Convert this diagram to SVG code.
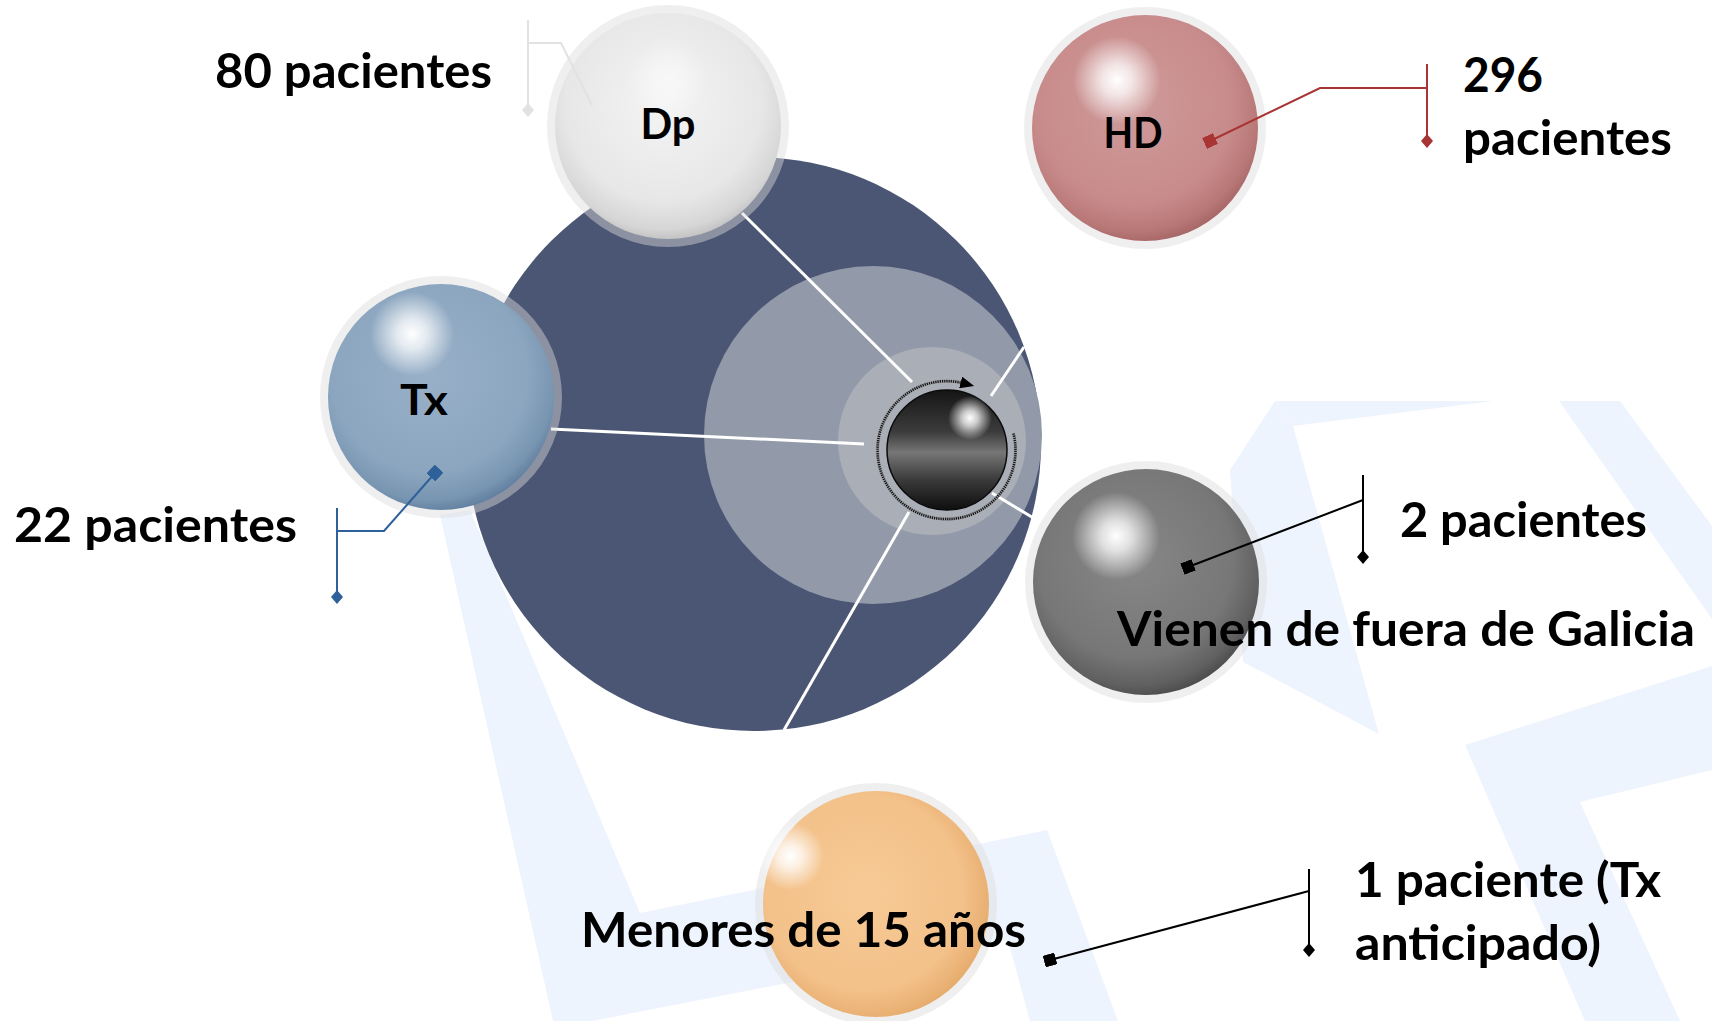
<svg xmlns="http://www.w3.org/2000/svg" width="1712" height="1021" viewBox="0 0 1712 1021">
<defs>
<style>
.lbl{font-family:Lato,"Open Sans","Liberation Sans",sans-serif;font-weight:700;font-size:48px;fill:#000}
.in{font-size:42px;text-anchor:middle}
.wm{fill:#eef4fd}
.ray{stroke:#fff;stroke-width:3;fill:none}
.halo{fill:#dcdcdc;fill-opacity:0.45}
.ld{fill:none;stroke-width:2}
</style>
<radialGradient id="gDp" cx="0.48" cy="0.4" r="0.62"><stop offset="0" stop-color="#f4f4f4"/><stop offset="0.7" stop-color="#e7e7e7"/><stop offset="0.9" stop-color="#d5d5d5"/><stop offset="1" stop-color="#bcbcbc"/></radialGradient>
<radialGradient id="gHD" cx="0.45" cy="0.4" r="0.62"><stop offset="0" stop-color="#cf9a9a"/><stop offset="0.7" stop-color="#c88b8b"/><stop offset="0.9" stop-color="#b87777"/><stop offset="1" stop-color="#a56464"/></radialGradient>
<radialGradient id="gTx" cx="0.45" cy="0.4" r="0.62"><stop offset="0" stop-color="#98b0c8"/><stop offset="0.7" stop-color="#8ca6bf"/><stop offset="0.9" stop-color="#7794b1"/><stop offset="1" stop-color="#5e7d9d"/></radialGradient>
<radialGradient id="gGr" cx="0.45" cy="0.4" r="0.62"><stop offset="0" stop-color="#878787"/><stop offset="0.7" stop-color="#777777"/><stop offset="0.9" stop-color="#606060"/><stop offset="1" stop-color="#4a4a4a"/></radialGradient>
<radialGradient id="gOr" cx="0.45" cy="0.45" r="0.62"><stop offset="0" stop-color="#f7ca95"/><stop offset="0.7" stop-color="#f3c18a"/><stop offset="0.9" stop-color="#e8ae70"/><stop offset="1" stop-color="#d8995a"/></radialGradient>
<linearGradient id="gDk" x1="0" y1="0" x2="0" y2="1"><stop offset="0" stop-color="#151515"/><stop offset="0.35" stop-color="#3c3c3c"/><stop offset="0.52" stop-color="#767676"/><stop offset="0.75" stop-color="#3a3a3a"/><stop offset="1" stop-color="#0e0e0e"/></linearGradient>
<radialGradient id="hl"><stop offset="0" stop-color="#fff" stop-opacity="1"/><stop offset="0.35" stop-color="#fff" stop-opacity="0.75"/><stop offset="1" stop-color="#fff" stop-opacity="0"/></radialGradient>
<marker id="diaBlue" viewBox="-7 -7 14 14" markerWidth="14" markerHeight="14" markerUnits="userSpaceOnUse" refX="0" refY="0" orient="0"><path d="M0,-7L6,0L0,7L-6,0Z" fill="#2e6099"/></marker>
<marker id="diaRed" viewBox="-7 -7 14 14" markerWidth="14" markerHeight="14" markerUnits="userSpaceOnUse" refX="0" refY="0" orient="0"><path d="M0,-7L6,0L0,7L-6,0Z" fill="#a83434"/></marker>
<marker id="diaBlack" viewBox="-7 -7 14 14" markerWidth="14" markerHeight="14" markerUnits="userSpaceOnUse" refX="0" refY="0" orient="0"><path d="M0,-7L6,0L0,7L-6,0Z" fill="#000"/></marker>
<marker id="diaGray" viewBox="-7 -7 14 14" markerWidth="14" markerHeight="14" markerUnits="userSpaceOnUse" refX="0" refY="0" orient="0"><path d="M0,-7L6,0L0,7L-6,0Z" fill="#e2e2e2"/></marker>
<marker id="sqBlue" viewBox="-6 -6 12 12" markerWidth="12" markerHeight="12" markerUnits="userSpaceOnUse" refX="0" refY="0" orient="auto"><path d="M-6,-6H6V6H-6Z" fill="#2e6099"/></marker>
<marker id="sqRed" viewBox="-6 -6 12 12" markerWidth="12" markerHeight="12" markerUnits="userSpaceOnUse" refX="0" refY="0" orient="auto"><path d="M-6,-6H6V6H-6Z" fill="#a83434"/></marker>
<marker id="sqBlack" viewBox="-6 -6 12 12" markerWidth="12" markerHeight="12" markerUnits="userSpaceOnUse" refX="0" refY="0" orient="auto"><path d="M-6,-6H6V6H-6Z" fill="#000"/></marker>
<marker id="arr" viewBox="0 -6 14 12" markerWidth="14" markerHeight="12" markerUnits="userSpaceOnUse" refX="4" refY="0" orient="auto"><path d="M0,-6L14,0L0,6Z" fill="#000"/></marker>
</defs>
<rect width="1712" height="1021" fill="#fff"/>
<g id="watermark">
<polygon class="wm" points="440,515 470,510 640,913 1047,830 1118,1021 1030,1021 1008,940 592,1021 553,1021"/>
<polygon class="wm" points="1275,401 1494,401 1293,426"/>
<polygon class="wm" points="1559,401 1620,401 1712,526 1712,619"/>
<polygon class="wm" points="1275,401 1293,426 1379,734 1243,662 1230,470"/>
<polygon class="wm" points="1465,745 1712,666 1712,770 1580,802 1680,1021 1585,1021"/>
</g>
<g id="node-center">
<circle cx="754" cy="444" r="287" fill="#4b5674"/>
<circle cx="873" cy="435" r="169" fill="#9299a8"/>
<circle cx="932" cy="441" r="94" fill="#aaaeb7"/>
</g>
<g id="connectors-rays">
<line class="ray" x1="742" y1="213" x2="912" y2="382"/>
<line class="ray" x1="551" y1="429" x2="864" y2="444"/>
<line class="ray" x1="991" y1="396" x2="1024" y2="347"/>
<line class="ray" x1="992" y1="493" x2="1040" y2="522"/>
<line class="ray" x1="909" y1="512" x2="784" y2="730"/>
</g>
<g id="node-core">
<path d="M1013.5,433.5 A69,69 0 1 1 964.5,383.5" fill="none" stroke="#9a9ca2" stroke-width="3.5"/>
<path d="M1013.5,433.5 A69,69 0 1 1 964.5,383.5" fill="none" stroke="#111" stroke-width="2.5" stroke-dasharray="1.2 1" marker-end="url(#arr)"/>
<circle cx="947" cy="450" r="60" fill="url(#gDk)"/>
<circle cx="947" cy="450" r="60" fill="none" stroke="#0b0b0b" stroke-width="1.5"/>
<circle cx="970" cy="418" r="22" fill="url(#hl)"/>
</g>
<g id="node-dp">
<circle class="halo" cx="668" cy="126" r="121"/>
<circle cx="668" cy="126" r="113" fill="url(#gDp)"/>
<circle cx="668" cy="78" r="40" fill="url(#hl)" opacity="0.5"/>
<text class="lbl in" x="668" y="139" textLength="55" lengthAdjust="spacingAndGlyphs">Dp</text>
</g>
<g id="node-hd">
<circle class="halo" cx="1145" cy="128" r="121"/>
<circle cx="1145" cy="128" r="113" fill="url(#gHD)"/>
<circle cx="1117" cy="80" r="44" fill="url(#hl)"/>
<text class="lbl in" x="1133" y="148" textLength="59" lengthAdjust="spacingAndGlyphs">HD</text>
<text class="lbl" x="1463" y="92" textLength="80" lengthAdjust="spacingAndGlyphs">296</text>
<text class="lbl" x="1463" y="155" textLength="209" lengthAdjust="spacingAndGlyphs">pacientes</text>
</g>
<g id="node-tx">
<circle class="halo" cx="441" cy="397" r="121"/>
<circle cx="441" cy="397" r="113" fill="url(#gTx)"/>
<circle cx="412" cy="334" r="42" fill="url(#hl)"/>
<text class="lbl in" x="424" y="415" textLength="48" lengthAdjust="spacingAndGlyphs">Tx</text>
<text class="lbl" x="14" y="542" textLength="283" lengthAdjust="spacingAndGlyphs">22 pacientes</text>
</g>
<g id="node-dp-label">
<text class="lbl" x="215" y="88" textLength="277" lengthAdjust="spacingAndGlyphs">80 pacientes</text>
</g>
<g id="node-galicia">
<circle class="halo" cx="1146" cy="582" r="121"/>
<circle cx="1146" cy="582" r="113" fill="url(#gGr)"/>
<circle cx="1116" cy="536" r="44" fill="url(#hl)"/>
<text class="lbl" x="1400" y="537" textLength="247" lengthAdjust="spacingAndGlyphs">2 pacientes</text>
<text class="lbl" x="1117" y="646" textLength="578" lengthAdjust="spacingAndGlyphs">Vienen de fuera de Galicia</text>
</g>
<g id="node-menores">
<circle class="halo" cx="876" cy="904" r="121"/>
<circle cx="876" cy="904" r="113" fill="url(#gOr)"/>
<circle cx="790" cy="856" r="34" fill="url(#hl)"/>
<text class="lbl" x="581" y="947" textLength="445" lengthAdjust="spacingAndGlyphs">Menores de 15 años</text>
<text class="lbl" x="1355" y="897" textLength="306" lengthAdjust="spacingAndGlyphs">1 paciente (Tx</text>
<text class="lbl" x="1355" y="960" textLength="246" lengthAdjust="spacingAndGlyphs">anticipado)</text>
</g>
<g id="connectors-leaders">
<path class="ld" d="M592,105 L561,43 L528,43" stroke="#e2e2e2"/>
<path class="ld" d="M528,20 V110" stroke="#e2e2e2" marker-end="url(#diaGray)"/>
<path class="ld" d="M435,473 L384,531 L337,531" stroke="#2e6099" marker-start="url(#sqBlue)"/>
<path class="ld" d="M337,508 V597" stroke="#2e6099" marker-end="url(#diaBlue)"/>
<path class="ld" d="M1210,141 L1320,88 L1427,88" stroke="#a83434" marker-start="url(#sqRed)"/>
<path class="ld" d="M1427,64 V141" stroke="#a83434" marker-end="url(#diaRed)"/>
<path class="ld" d="M1188,567 L1363,500" stroke="#000" marker-start="url(#sqBlack)"/>
<path class="ld" d="M1363,475 V557" stroke="#000" marker-end="url(#diaBlack)"/>
<path class="ld" d="M1050,960 L1309,891" stroke="#000" marker-start="url(#sqBlack)"/>
<path class="ld" d="M1309,869 V950" stroke="#000" marker-end="url(#diaBlack)"/>
</g>
</svg>
